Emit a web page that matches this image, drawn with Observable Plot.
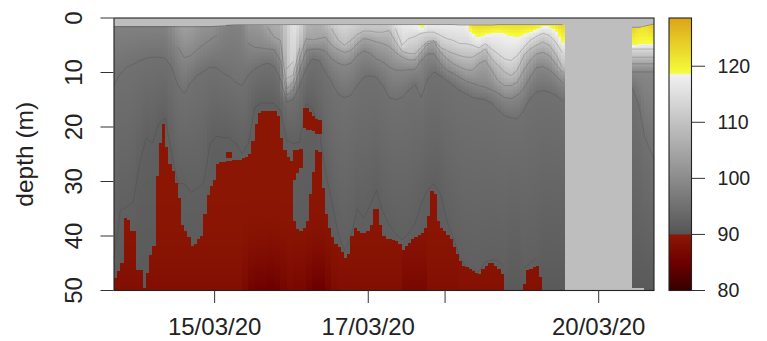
<!DOCTYPE html>
<html><head><meta charset="utf-8">
<script src="https://cdn.jsdelivr.net/npm/d3@7"></script>
<script src="https://cdn.jsdelivr.net/npm/@observablehq/plot@0.6"></script>
<style>
html,body{margin:0;padding:0;background:#fff}
#wrap{position:relative;width:767px;height:341px;overflow:hidden}
#wrap svg{position:absolute;top:0;font-family:"Liberation Sans",Arial,sans-serif;background:transparent}
</style></head><body><div id="wrap"></div>
<script>
// Tick labels
const dayTicks = [15, 17, 18, 20];
const dayLabels = ["15/03/20", "17/03/20", "", "20/03/20"];
const depthTicks = [0, 10, 20, 30, 40, 50];
const barTicks = [80, 90, 100, 110, 120];

// Measurement columns: every 2 h until the gap, then the last four casts (day of March)
const startDay = 13.69;
const times = d3.range(71).map(j => startDay + j / 12).concat([20.44, 20.52, 20.6, 20.72]);

// Depth of the surface (top of data), m
const surface = [1.6,1.6,1.6,1.6,1.6,1.6,1.6,1.6,1.6,1.6,1.6,1.6,1.6,1.6,1.6,1.6,1.5,1.4,1.3,1.2,
 1.2,1.2,1.2,1.2,1.2,1.2,1.2,1.2,1.2,1.2,1.2,1.2,1.2,1.2,1.2,1.2,1.2,1.2,1.2,1.2,
 1.2,1.2,1.2,1.2,1.2,1.2,1.2,1.2,1.2,1.2,1.2,1.2,1.2,1.2,1.3,1.3,1.3,1.3,1.3,1.3,
 1.2,1.2,1.2,1.2,1.2,1.2,1.2,1.2,1.2,1.2,1.2, 1.7,1.7,1.5,1.1];
// Saturation at the surface
const surfaceValue = [98,98,98,98,98,98,98,98,98,100,102.5,103.5,103,102,101,101,100,98.5,98,98,
 98.5,102,102,102.5,105,106,106,112,116,114,107,106.5,106,108,111,113,113.5,113,112,111,
 111,111,111,112,115,117,117.5,118,119.5,117.5,117.5,117.5,117.5,117.5,117.5,117.5,122.5,122.5,122.5,122.5,
 122.5,122.5,122.5,122.5,122.5,122.5,122,122,122,122,123, 124,122,122,125];
// Depth (m) of each isoline per column; 0 = the isoline does not exist in that column
const iso92 = [44,35.3,34.7,33.8,26.7,22,23,19.4,18.4,24.9,30.4,30.4,32,31.3,30.4,23,21.7,21.9,22,23,
 24.9,23,16.4,15.6,15.6,15.7,17,22.5,23,22.8,15.7,16.6,20,28,33.5,39.5,42.7,40.2,35,36.8,
 34.4,31.6,35.6,38,39.6,40.7,39.6,37.8,34.1,31.5,30.4,32.3,37.2,40.3,43.9,45.6,46.2,46.5,44.8,44.4,
 44.5,45.7,50,50,46,45,44,50,50,50,50, 50,50,50,50];
const iso95 = [12.4,10.2,9,8.5,7.8,7.4,7.2,7.2,7.4,9.1,12.4,13.9,11.8,10.5,9.8,9,9.1,10.1,10.7,11.8,
 12.4,10.5,9.3,8.7,8.3,8.9,11.2,15.4,15,12.4,9.3,7.5,7.8,9.9,11.8,14,14.6,14.2,12.4,10.9,
 10.6,10.9,12.4,14.6,15,14.6,13.3,12.2,14.6,11.2,9.9,10.6,11.5,12.4,13.3,13.9,14.6,14.8,15,15.7,
 16.9,17.9,18.3,18.5,17,14.8,13.6,13.3,13.6,14.2,15.1, 13,15.8,21.9,26];
const iso99 = [0,0,0,0,0,0,0,0,0,0,5.4,7.3,6.9,5.8,4.9,4,3.2,0,0,0,
 0,4.7,5.4,5.5,5.7,5.8,7.8,14.2,13.2,9.5,6,5.7,5.7,6.1,7.5,8.3,8.7,8.3,6.9,6,
 6.5,7.5,8.1,9,9.6,9.6,9.5,9.5,7.8,6.6,6.6,8.4,9.6,10.2,10.9,11.6,12,12.4,12.7,13.2,
 13.8,14.6,14.8,14.2,13,10.9,9.1,8.9,9.5,10.6,11.8, 9.9,9.9,9.9,9.9];
const iso104 = [0,0,0,0,0,0,0,0,0,0,0,0,0,0,0,0,0,0,0,0,
 0,0,0,0,1.7,3.5,4.1,13,11.8,7.5,3.8,4,3.8,3.5,5,5.8,6.3,6,4.7,3.8,
 4,4.4,4.7,5.2,6.3,7.2,7.7,7.7,6.3,4.7,4.4,6.3,7.5,8.4,9,9.5,9.6,8.4,7.8,9.6,
 11.5,12.4,12.4,11.8,9.6,7.8,6.6,6.3,6.9,8.4,9.9, 8.4,8.4,8.4,8.4];
const iso109 = [0,0,0,0,0,0,0,0,0,0,0,0,0,0,0,0,0,0,0,0,
 0,0,0,0,0,0,0,11.1,10.5,5.5,0,0,0,0,2,4,5,4.1,3,2.4,
 2.4,2.6,2.6,2.3,4.4,6.1,6.5,6.6,5.4,4.3,4.1,5.4,6,6.5,6.9,7.2,7.2,6.5,5.7,7.5,
 8.7,9.9,10.6,9.6,6.9,5.7,5,4.4,5,6.6,9, 7.2,7.2,7.2,7.2];
const iso114 = [0,0,0,0,0,0,0,0,0,0,0,0,0,0,0,0,0,0,0,0,
 0,0,0,0,0,0,0,9.3,8,0,0,0,0,0,0,0,0,0,0,0,
 0,0,0,0,2,5,3.8,3.4,2.8,2.6,2.6,3.2,3.8,4.1,4.7,4.7,5,5.5,4.7,5.7,
 6.6,7.5,7.8,6.9,5.4,4.1,3.4,2.8,3.2,4.4,6.3, 5.7,5.7,5.7,5.7];
const iso118 = [0,0,0,0,0,0,0,0,0,0,0,0,0,0,0,0,0,0,0,0,
 0,0,0,0,0,0,0,0,0,0,0,0,0,0,0,0,0,0,0,0,
 0,0,0,0,0,0,0,0,2.2,0,0,0,0,0,0,0,2.9,3.8,3,2.8,
 2.6,2.9,3.2,3.5,3,2.6,2.2,1.6,1.6,2.3,4.4, 5.2,4.9,4.7,4.7];
// Saturation at 50 m in the under-saturated parts
const bottomValue = [88,88,88,88,88,88,88,88,88,88,88,88,88,88,88,88,88,88,88,88,
 87,85.5,85,85,84.5,85,86,87,86.5,86.5,85.5,84.5,84.5,86,87.5,88,88,88,88,88,
 88,88,88,88,88,86.5,86.5,86.5,86.5,88,88,88,88,88,88.5,88.5,88.5,88.5,88.5,88.5,
 88.5,88.5,88.5,88.5,88.5,88.5,88.5,88.5,88.5,88.5,88.5, 88.5,88.5,88.5,88.5];
// Depth (m) where saturation falls under 90, hourly from the first cast
const below90 = [47.7,46.4,44.9,36.8,37,39,39,46.3,46.3,49.4,46.7,43.6,41.7,28.9,23,19.4,23.8,26.7,28,30.2,
 33.1,38.1,39,40.3,41.7,41.4,40.5,39.9,35.9,32.6,30.7,29.8,26.7,26.5,26.4,26.3,26.2,26.1,26,26,
 25.8,25.4,25,22.5,19.4,17.5,17,17,17,17,17,17.9,22.1,24.3,25.6,26.2,37.2,38.8,39,38.6,
 37.2,32.2,28.3,24.3,24.5,31.3,35.9,38.6,40.3,41.4,42.1,43,44,43.2,39.9,38.4,39,39.4,39.6,39,
 38.1,35,35.1,38.1,39.9,40.5,40.5,40.7,41,41.4,42.5,41.7,41.2,40.5,40.3,39.8,39.4,38.4,36.2,31.7,
 32.2,37.2,38.6,39,39.7,40.5,42.1,43.2,44.5,45.4,45.8,46.1,46.5,46.7,46.9,46.1,45.4,45,45,45.4,
 46,47.1,50,50,50,50,50,50,48.7,46.3,46,45.8,45.6,47.6,50,50,50,50,50,50,50];
// Isolated under-saturated patches higher in the water column
const patchHour = [35,36,56,57,58,59,60,61,62,63,64];
const patchTop = [24.5,24.5,24.3,24.3,24,16.4,16.6,17.3,18.1,18.6,18.8];
const patchBottom = [25.8,25.8,29.8,28.5,27.4,20.3,20.5,20.6,20.8,21.2,21.2];

const levels = [
  {v: 118.6, d: iso118}, {v: 114, d: iso114}, {v: 109, d: iso109},
  {v: 104, d: iso104}, {v: 99, d: iso99}, {v: 95, d: iso95}, {v: 92, d: iso92}
];
const deepValue = 90.9;
const profiles = times.map((_, j) => {
  const pts = [[surface[j], surfaceValue[j]]];
  for (const l of levels) {
    const d = l.d[j], last = pts[pts.length - 1];
    if (d > last[0] && d < 50 && l.v < last[1]) pts.push([d, l.v]);
  }
  pts.push([50, deepValue]);
  return pts;
});
function at(j, d) {
  const p = profiles[j];
  if (d <= p[0][0]) return p[0][1];
  for (let k = 1; k < p.length; k++) if (d <= p[k][0]) {
    const a = p[k - 1], b = p[k];
    return a[1] + (b[1] - a[1]) * (d - a[0]) / (b[0] - a[0]);
  }
  return deepValue;
}
const gapFrom = 19.557, gapTo = 20.44;
function field(t, d) {
  if (t > gapFrom && t < gapTo) return NaN;
  if (t >= gapTo && t < 20.6 && d > 49.4) return NaN;
  let j = Math.max(0, d3.bisectRight(times, t) - 1);
  const j2 = (j === 70 || j >= times.length - 1) ? j : j + 1;
  const f = j2 === j ? 0 : (t - times[j]) / (times[j2] - times[j]);
  const top = surface[j] + (surface[j2] - surface[j]) * f;
  if (d < top) return NaN;
  const i = Math.floor((t - startDay) * 24);
  const lim = i < below90.length ? below90[i] : 50;
  let inPatch = false;
  patchHour.forEach((h, k) => { if (h === i && d >= patchTop[k] && d <= patchBottom[k]) inPatch = true; });
  if (d > lim || inPatch) {
    const deep = bottomValue[j];
    const u = Math.max(0, (d - 32) / 18);
    return 89.5 - (89.5 - deep) * u * u;
  }
  const v = at(j, d) * (1 - f) + at(j2, d) * f;
  return Math.max(v, 90.02);
}

const colorScale = {
  type: "linear",
  domain: [80, 85, 89.99, 90, 118.59, 118.6, 128.6],
  range: ["#360000", "#6e0000", "#8e1804", "#555555", "#f2f2f2", "#f6ff3c", "#dca518"],
  clamp: true
};

const lineRows = levels.slice(1).flatMap(l => times.map((t, j) => ({
  t, level: l.v + (j > 70 ? 1000 : 0),
  d: (l.d[j] > surface[j] && l.d[j] < 50) ? l.d[j] : NaN
})));
const surfaceRows = times.map((t, j) => ({t, d: surface[j], seg: j > 70 ? 1 : 0}));

const font = {fontSize: 24};
const main = Plot.plot({
  width: 660, height: 341,
  marginLeft: 113.5, marginRight: 6.5, marginTop: 17.5, marginBottom: 51,
  x: {domain: [startDay, 20.72], label: null},
  y: {domain: [50, 0], label: null},
  color: colorScale,
  marks: [
    Plot.frame({fill: "#bebebe", stroke: "none"}),
    Plot.raster({
      fill: field, x1: startDay, x2: 20.72, y1: 50, y2: 0,
      width: 169, height: 200, imageRendering: "pixelated"
    }),
    Plot.line(lineRows, {x: "t", y: "d", z: "level", stroke: "#3c3c3c", strokeOpacity: 0.3, strokeWidth: 0.8}),
    Plot.line(surfaceRows, {x: "t", y: "d", z: "seg", stroke: "#3c3c3c", strokeOpacity: 0.45, strokeWidth: 0.8}),
    Plot.frame({stroke: "#222", strokeWidth: 1.1}),
    Plot.axisX({
      anchor: "bottom", ticks: dayTicks, tickSize: 13, tickPadding: 14,
      tickFormat: d => dayLabels[dayTicks.indexOf(d)], label: null, ...font,
      stroke: "#333", color: "#222"
    }),
    Plot.axisY({
      anchor: "left", ticks: depthTicks, tickSize: 13, tickPadding: 19, tickRotate: -90,
      textAnchor: "middle", label: null, ...font, stroke: "#333", color: "#222"
    }),
    Plot.text(["depth (m)"], {
      frameAnchor: "left", dx: -88.5, rotate: -90, fontSize: 24.5, fill: "#222", textAnchor: "middle"
    })
  ]
});
main.style.left = "0px";

const bar = Plot.plot({
  width: 107, height: 341,
  marginLeft: 8.5, marginRight: 76, marginTop: 17.5, marginBottom: 51,
  x: {domain: [0, 1], axis: null},
  y: {domain: [80, 128.6], label: null},
  color: colorScale,
  marks: [
    Plot.raster({fill: (x, y) => y, x1: 0, x2: 1, y1: 80, y2: 128.6, width: 4, height: 180}),
    Plot.frame({stroke: "#222", strokeWidth: 1.1}),
    Plot.axisY({
      anchor: "right", ticks: barTicks, tickSize: 13, tickPadding: 13,
      fontSize: 19.6, label: null, stroke: "#333", color: "#222"
    })
  ]
});
bar.style.left = "660px";

const wrap = document.getElementById("wrap");
wrap.append(main, bar);
</script></body></html>
